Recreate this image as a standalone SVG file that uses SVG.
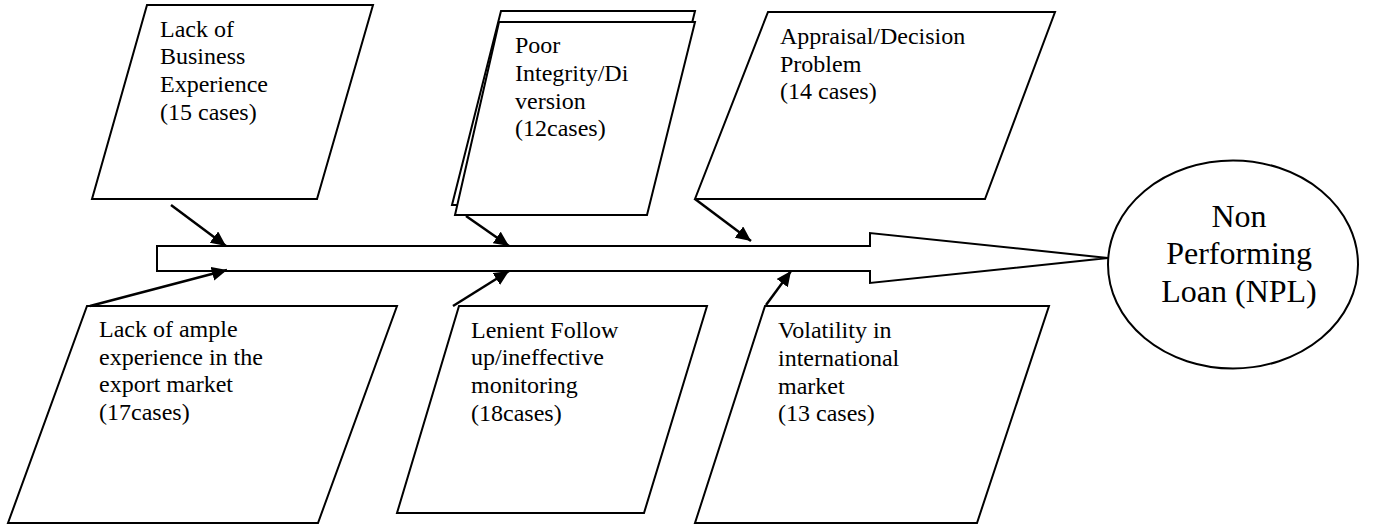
<svg xmlns="http://www.w3.org/2000/svg" width="1376" height="525" viewBox="0 0 1376 525">
<style>
.box{fill:#fff;stroke:#000;stroke-width:2;stroke-linejoin:miter}
.t{font-family:"Liberation Serif","Times New Roman",serif;font-size:24px;fill:#000}
.big{font-family:"Liberation Serif","Times New Roman",serif;font-size:32px;fill:#000;text-anchor:middle}
.arr{stroke:#000;stroke-width:2.5;fill:none;marker-end:url(#ah)}
</style>
<defs>
<marker id="ah" markerUnits="userSpaceOnUse" markerWidth="16" markerHeight="14" refX="15" refY="7" orient="auto">
<path d="M0,0 L15,7 L0,14 z" fill="#000"/>
</marker>
</defs>
<rect width="1376" height="525" fill="#fff"/>
<g id="spine">
<polygon class="box" points="157,246 870,246 870,233 1108,258 870,283 870,271 157,271"/>
</g>
<g id="npl">
<ellipse class="box" cx="1233" cy="264.5" rx="125" ry="104"/>
<text class="big" x="1239" y="226.5">Non</text>
<text class="big" x="1239" y="264">Performing</text>
<text class="big" x="1239" y="301.5">Loan (NPL)</text>
</g>
<g id="cause1">
<polygon class="box" points="147,5 373,5 317,199 92,199"/>
<text class="t" x="160" y="36.5">Lack of</text>
<text class="t" x="160" y="64.2">Business</text>
<text class="t" x="160" y="91.9">Experience</text>
<text class="t" x="160" y="119.6">(15 cases)</text>
</g>
<g id="cause2">
<polygon class="box" points="501,11 695,11 647,205 452,205"/>
<polygon class="box" points="499,22 695,22 647,215 455,215"/>
<text class="t" x="515" y="53.3">Poor</text>
<text class="t" x="515" y="81">Integrity/Di</text>
<text class="t" x="515" y="108.7">version</text>
<text class="t" x="515" y="136.4">(12cases)</text>
</g>
<g id="cause3">
<polygon class="box" points="768,12 1055,12 985,199 695,199"/>
<text class="t" x="780" y="44">Appraisal/Decision</text>
<text class="t" x="780" y="71.7">Problem</text>
<text class="t" x="780" y="99.4">(14 cases)</text>
</g>
<g id="cause4">
<polygon class="box" points="87,306 397,306 318,523 8,523"/>
<text class="t" x="99" y="337">Lack of ample</text>
<text class="t" x="99" y="364.7">experience in the</text>
<text class="t" x="99" y="392.4">export market</text>
<text class="t" x="99" y="420.1">(17cases)</text>
</g>
<g id="cause5">
<polygon class="box" points="459,306 707,306 644,513 397,513"/>
<text class="t" x="471" y="337.7">Lenient Follow</text>
<text class="t" x="471" y="365.4">up/ineffective</text>
<text class="t" x="471" y="393.1">monitoring</text>
<text class="t" x="471" y="420.8">(18cases)</text>
</g>
<g id="cause6">
<polygon class="box" points="765,306 1049,306 977,523 695,523"/>
<text class="t" x="778" y="338.3">Volatility in</text>
<text class="t" x="778" y="366">international</text>
<text class="t" x="778" y="393.7">market</text>
<text class="t" x="778" y="421.4">(13 cases)</text>
</g>
<g id="connectors">
<line class="arr" x1="171" y1="205" x2="226" y2="246"/>
<line class="arr" x1="466" y1="216" x2="509" y2="246"/>
<line class="arr" x1="695" y1="199" x2="751" y2="241"/>
<line class="arr" x1="90" y1="306" x2="227" y2="270"/>
<line class="arr" x1="453" y1="306" x2="509" y2="271"/>
<line class="arr" x1="766" y1="305" x2="791" y2="271"/>
</g>
</svg>
